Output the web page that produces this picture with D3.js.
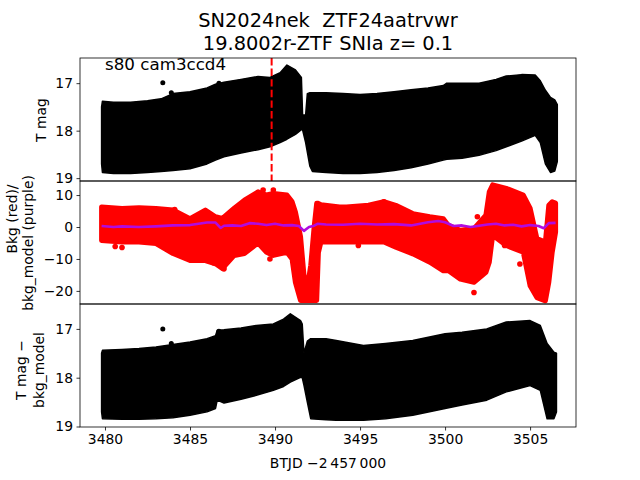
<!DOCTYPE html>
<html><head><meta charset="utf-8">
<script src="https://cdn.jsdelivr.net/npm/d3@7"></script>
<style>body{margin:0;background:#fff}svg{display:block}text{font-family:"DejaVu Sans",sans-serif;white-space:pre}</style>
</head><body><svg id="c" width="640" height="480"></svg>
<script>
// ---- data ----
const titleLines = ["SN2024nek  ZTF24aatrvwr", "19.8002r-ZTF SNIa z= 0.1"];
const fieldLabel = "s80 cam3ccd4";
const xTicks = [3480, 3485, 3490, 3495, 3500, 3505];
const magTicks = [17, 18, 19];
const bkgTicks = [-20, -10, 0, 10];
const markT = [3489.8];

// T mag envelope (bright edge / faint edge)
const tTop  = [3479.8,3479.85,3480.5,3481.5,3482.5,3483.3,3484,3485,3486,3486.5,3487,3488,3489,3489.7,3490.3,3490.7,3491.2,3491.55,3491.62,3491.8,3491.9,3492.05,3492.2,3493,3494,3495,3496,3497,3498,3499,3499.9,3500.1,3501,3502,3503,3503.6,3504.5,3505.3,3505.6,3505.9,3506.2,3506.45,3506.6];
const topHi = [17.50,17.38,17.40,17.40,17.37,17.33,17.22,17.18,17.10,17.02,16.98,16.92,16.86,16.88,16.78,16.62,16.72,16.88,17.67,17.67,17.22,17.20,17.20,17.20,17.22,17.24,17.22,17.18,17.14,17.10,17.05,17.00,17.00,17.00,16.92,16.85,16.82,16.83,16.95,17.15,17.30,17.35,17.45];
const topLo = [18.70,18.88,18.90,18.90,18.88,18.86,18.84,18.80,18.70,18.62,18.55,18.47,18.40,18.34,18.25,18.18,18.08,17.98,17.98,18.25,18.45,18.75,18.86,18.88,18.90,18.90,18.88,18.84,18.78,18.70,18.62,18.60,18.58,18.52,18.42,18.34,18.22,18.10,18.25,18.70,18.88,18.85,18.65];

// T mag - bkg_model envelope
const tBot  = [3479.8,3479.85,3481,3482,3483,3484,3485,3486,3486.5,3486.6,3487,3488,3488.9,3489.9,3490.5,3490.9,3491.5,3491.6,3491.7,3491.9,3492.1,3493,3493.6,3495.2,3496.5,3498.1,3500,3501,3502.45,3503.6,3505,3505.6,3506,3506.4,3506.55];
const botHi = [17.50,17.44,17.42,17.40,17.37,17.32,17.27,17.20,17.14,17.03,17.02,16.98,16.93,16.90,16.80,16.69,16.83,16.90,17.50,17.25,17.20,17.20,17.24,17.34,17.30,17.24,17.10,17.07,17.00,16.86,16.83,16.93,17.30,17.48,17.50];
const botLo = [18.70,18.84,18.85,18.85,18.84,18.82,18.77,18.70,18.63,18.46,18.52,18.44,18.36,18.26,18.18,18.09,17.99,18.00,18.15,18.50,18.84,18.86,18.87,18.87,18.84,18.77,18.63,18.56,18.46,18.29,18.16,18.26,18.84,18.84,18.70];

// isolated bright points
const outT = [3483.4, 3486.7, 3483.9];
const outTop = [16.99, 17.00, 17.20];
const outBot = [17.00, 17.05, 17.30];

// Bkg (red) envelope
const tBkg  = [3479.8,3481,3482,3483,3484,3485,3485.9,3486.5,3486.9,3487.6,3488.2,3489,3489.5,3489.9,3490.7,3491.0,3491.2,3491.5,3491.7,3491.9,3492.1,3492.3,3492.45,3492.55,3492.7,3493.8,3494.2,3495.5,3496.4,3497.1,3498.1,3499.1,3499.9,3500.2,3500.9,3501.7,3502.4,3502.6,3502.8,3503.6,3504.6,3505.0,3505.4,3505.9,3506.1,3506.3,3506.5];
const bkgHi = [6.3,5.8,6.0,5.8,5.3,2.6,5.3,3.2,2.7,5.9,8.4,11.0,10.0,10.5,10.0,8.0,4.7,-3.0,-15,-19,-12,0,7.4,7.4,7.0,6.3,6.3,6.8,7.9,6.8,4.2,3.2,2.6,0.5,-1.0,-0.5,3.7,11.0,13.2,12.1,10.0,5.9,-3.6,-4.7,6.8,7.9,7.5];
const bkgLo = [-4.2,-4.7,-4.7,-5.2,-8.3,-10.5,-10.5,-11.5,-13.0,-8.9,-8.3,-5.0,-7.9,-8.9,-7.9,-10,-17.4,-23.0,-23.0,-23.0,-23.0,-23.0,-23.0,-8,-4.7,-4.7,-4.7,-4.7,-4.7,-6.3,-8.4,-11.0,-13.7,-13.7,-16.3,-17.3,-14.2,-11.0,-2.6,-5.8,-7.9,-18.4,-22.1,-23.1,-17.3,-7.9,-1.6];
const bkgOutT = [3480.6,3481.0,3484.1,3486.4,3487.0,3489.3,3489.9,3489.7,3494.9,3501.7,3501.9,3504.4,3503.5,3496.4];
const bkgOutV = [-6.1,-6.4,5.5,-11.2,-13.1,11.6,11.6,-10,-5.8,-20.5,3.2,-11.6,-5.8,7.9];

// bkg_model (purple)
const tModel = [3479.8,3480.5,3481,3482,3483,3484,3485,3485.5,3486,3486.5,3486.8,3487,3487.5,3488,3488.5,3489,3489.5,3490,3490.5,3491,3491.4,3491.7,3492.0,3492.3,3492.5,3493,3494,3495,3496,3497,3498,3499,3499.6,3500,3500.5,3501,3501.5,3502,3502.5,3503,3503.5,3504,3504.5,3505,3505.5,3505.8,3506.1,3506.5];
const modelV = [0.3,0.0,0.2,0.0,0.2,0.5,0.6,1.0,1.4,1.4,-0.3,0.4,0.5,0.3,1.2,1.0,0.6,1.0,0.5,0.6,0.3,-1.2,0.0,0.4,1.0,0.8,0.7,1.0,0.8,0.9,0.5,1.5,1.9,1.5,0.3,0.5,0.0,0.4,0.8,1.0,0.5,0.7,0.2,0.6,0.3,-0.4,1.2,1.3];

// ---- drawing ----
const svg = d3.select("#c");
const L = 80, R = 576;
const panels = [{y0:58,y1:181},{y0:181,y1:304},{y0:304,y1:427}];
const x = d3.scaleLinear().domain([3478.53, 3507.7]).range([L, R]);
const yTop = d3.scaleLinear().domain([16.47, 19.06]).range([panels[0].y0, panels[0].y1]);
const yMid = d3.scaleLinear().domain([14.4, -24.1]).range([panels[1].y0, panels[1].y1]);
const yBot = d3.scaleLinear().domain([16.49, 19.01]).range([panels[2].y0, panels[2].y1]);

function clip(id, p){
  svg.append("clipPath").attr("id", id).append("rect")
    .attr("x", L).attr("y", p.y0).attr("width", R-L).attr("height", p.y1-p.y0);
}
clip("c0", panels[0]); clip("c1", panels[1]); clip("c2", panels[2]);

function band(g, ts, hi, lo, ys, color, sw){
  const d = ts.map((t,i)=>({t, hi:hi[i], lo:lo[i]}));
  g.append("path").datum(d)
    .attr("d", d3.area().x(v=>x(v.t)).y0(v=>ys(v.lo)).y1(v=>ys(v.hi)))
    .attr("fill", color).attr("stroke", color).attr("stroke-width", sw).attr("stroke-linejoin","round");
}

// top panel
const g0 = svg.append("g").attr("clip-path","url(#c0)");
band(g0, tTop, topHi, topLo, yTop, "#000", 1.5);
g0.selectAll("circle.o").data(outT).join("circle").attr("cx", t=>x(t)).attr("cy",(t,i)=>yTop(outTop[i])).attr("r",2.5).attr("fill","#000");
g0.selectAll("line.m").data(markT).join("line")
  .attr("x1", t=>x(t)).attr("x2", t=>x(t)).attr("y1", panels[0].y0).attr("y2", panels[0].y1)
  .attr("stroke","red").attr("stroke-width",2).attr("stroke-dasharray","7.4,3.2");

// middle panel
const g1 = svg.append("g").attr("clip-path","url(#c1)");
band(g1, tBkg, bkgHi, bkgLo, yMid, "red", 5);
g1.selectAll("circle").data(bkgOutT).join("circle").attr("cx", t=>x(t)).attr("cy",(t,i)=>yMid(bkgOutV[i])).attr("r",2.8).attr("fill","red");
g1.append("path").datum(tModel.map((t,i)=>[t, modelV[i]]))
  .attr("d", d3.line().x(v=>x(v[0])).y(v=>yMid(v[1])))
  .attr("fill","none").attr("stroke","#b00be0").attr("stroke-width",2.6).attr("stroke-linejoin","round");

// bottom panel
const g2 = svg.append("g").attr("clip-path","url(#c2)");
band(g2, tBot, botHi, botLo, yBot, "#000", 1.5);
g2.selectAll("circle").data(outT).join("circle").attr("cx", t=>x(t)).attr("cy",(t,i)=>yBot(outBot[i])).attr("r",2.5).attr("fill","#000");

// axes
const fmt = d => d3.format("d")(d).replace("-", "\u2212");
function yAxis(scale, ticks){
  const g = svg.append("g").attr("transform",`translate(${L},0)`)
    .call(d3.axisLeft(scale).tickValues(ticks).tickFormat(fmt).tickSize(3.5).tickPadding(3.5));
  g.select(".domain").remove();
  g.selectAll("line").attr("stroke","#000").attr("stroke-width",0.8);
  g.selectAll("text").attr("font-size","13.9px").attr("fill","#000").style("font-family","DejaVu Sans");
}
yAxis(yTop, magTicks); yAxis(yMid, bkgTicks); yAxis(yBot, magTicks);
const gx = svg.append("g").attr("transform",`translate(0,${panels[2].y1})`)
  .call(d3.axisBottom(x).tickValues(xTicks).tickFormat(d3.format("d")).tickSize(3.5).tickPadding(3.5));
gx.select(".domain").remove();
gx.selectAll("line").attr("stroke","#000").attr("stroke-width",0.8);
gx.selectAll("text").attr("font-size","13.9px").attr("fill","#000").style("font-family","DejaVu Sans");

panels.forEach(p=>{
  svg.append("rect").attr("x",L).attr("y",p.y0).attr("width",R-L).attr("height",p.y1-p.y0)
    .attr("fill","none").attr("stroke","#000").attr("stroke-width",0.8);
});

// texts
svg.append("text").attr("x",105).attr("y",70).attr("font-size","16.7px").text(fieldLabel);
svg.append("text").attr("x",328).attr("y",27).attr("text-anchor","middle").attr("font-size","19.4px").attr("xml:space","preserve").text(titleLines[0]);
svg.append("text").attr("x",328).attr("y",50).attr("text-anchor","middle").attr("font-size","19.4px").text(titleLines[1]);
svg.append("text").attr("x",328).attr("y",468).attr("text-anchor","middle").attr("font-size","13.9px").text("BTJD \u22122\u2009457\u2009000");

function ylab(cx, cy, s){
  svg.append("text").attr("transform",`translate(${cx},${cy}) rotate(-90)`)
    .attr("text-anchor","middle").attr("dominant-baseline","central").attr("font-size","13.9px").text(s);
}
ylab(41, 120, "T mag");
ylab(12, 219, "Bkg (red)/");
ylab(28, 243, "bkg_model (purple)");
ylab(21, 370, "T mag \u2212");
ylab(39, 370, "bkg_model");
</script></body></html>
